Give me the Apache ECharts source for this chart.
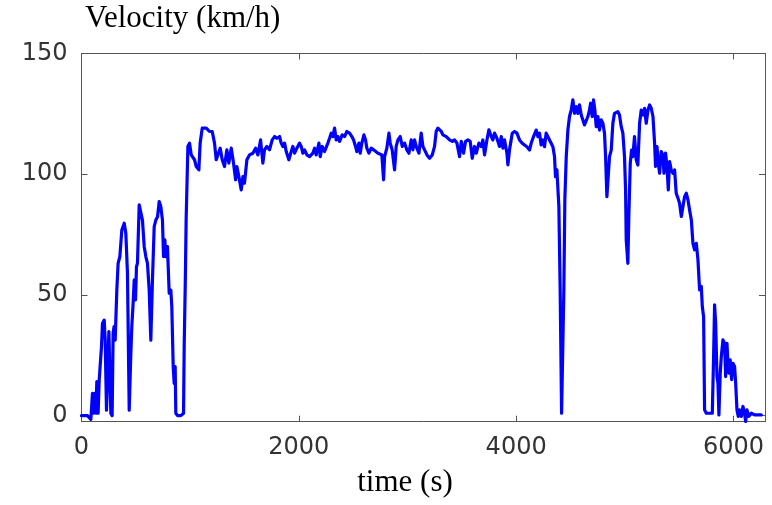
<!DOCTYPE html>
<html>
<head>
<meta charset="utf-8">
<script src="https://cdn.jsdelivr.net/npm/echarts@6/dist/echarts.min.js"></script>
<style>
html,body{margin:0;padding:0;background:#fff;}
#chart{width:772px;height:505px;}
</style>
</head>
<body>
<div id="chart"></div>
<script>
// ---- data: [time (s), velocity (km/h)] ----
var launchPhase = [[0,0],[55,0],[86,-1.5],[101,9.2],[110,1],[123,9.2],[132,1],[141,14.1],[153,1],[163,14.8],[172,14.8],[184,28.6],[193,38.2],[209,39.6],[218,31.3],[230,2.3],[239,2.3],[252,34.8],[264,34.8],[270,1],[282,0],[291,34.1],[300,36.9],[310,31.3],[325,52],[337,63.1],[353,65.9],[371,76.9],[393,79.7],[408,75.5],[423,59],[439,2.3],[454,25.8],[463,36.9],[475,46.5],[485,56.2],[497,47.9],[506,61.7],[515,63.1],[531,87.3],[546,86.6],[561,81],[577,70],[592,65.9],[607,63.1],[623,52],[638,31.3],[653,56.2],[669,78.3],[684,81],[700,82.4],[715,88.7],[730,86.6],[745,81],[755,65.9],[767,72.8],[776,65.9],[791,70],[807,50.7],[822,52],[831,45.2],[844,20.3],[853,13.4],[862,20.3],[868,1],[884,0],[914,0],[939,1],[945,28.6],[955,55]];
var cruisePhase = [[963,81.1],[979,111.5],[994,112.9],[1010,108],[1025,108.7],[1040,106],[1056,103.2],[1080,101.8],[1092,112.9],[1111,119.1],[1148,119.1],[1178,117.7],[1203,117.7],[1224,112.9],[1240,106],[1255,105.3],[1276,110.8],[1295,106],[1316,103.2],[1338,110.1],[1356,104.6],[1378,110.8],[1399,104.6],[1418,97.7],[1430,103.2],[1448,99],[1470,93.5],[1485,99],[1500,96.3],[1522,106],[1546,108],[1577,108.7],[1602,110.8],[1623,108],[1648,114.2],[1669,104.6],[1684,110.1],[1706,111.5],[1730,110.1],[1755,114.2],[1777,115.6],[1798,114.9],[1823,115.6],[1838,112.9],[1853,111.5],[1869,112.9],[1884,109.4],[1908,106],[1930,109.4],[1945,111.5],[1961,108.7],[1982,110.8],[2007,112.9],[2022,111.5],[2037,108.7],[2053,110.1],[2074,108],[2099,107.3],[2129,108.7],[2145,110.8],[2160,108],[2185,112.9],[2197,107.3],[2215,111.5],[2237,109.4],[2252,110.1],[2267,112.9],[2283,114.9],[2298,117],[2313,115.6],[2329,119.1],[2344,114.2],[2359,115.6],[2375,113.6],[2399,116.3],[2421,115.6],[2442,117.7],[2467,117],[2488,115.6],[2504,114.2],[2522,111.5],[2534,109.4],[2553,112.9],[2565,108.7],[2580,112.9],[2599,116.3],[2614,114.2],[2626,110.8],[2645,108.7],[2666,110.8],[2688,110.1],[2706,110.1],[2728,108.7],[2743,109.4],[2764,108],[2780,97.7],[2789,107.3],[2810,110.8],[2829,117],[2841,112.9],[2859,110.1],[2881,101.8],[2896,111.5],[2912,114.2],[2933,115.6],[2952,111.5],[2973,112.9],[2994,110.1],[3013,108.7],[3034,114.2],[3050,110.1],[3065,114.2],[3080,111.5],[3105,108.7],[3126,117],[3142,111.5],[3157,110.1],[3179,108],[3203,106.6],[3228,108],[3249,111.5],[3264,117.7],[3280,119.1],[3295,119.8],[3311,117.7],[3326,116.3],[3357,115.6],[3387,114.2],[3412,113.6],[3433,114.2],[3455,112.9],[3479,107.3],[3495,113.6],[3516,108.7],[3534,113.6],[3556,114.2],[3577,113.6],[3596,106.6],[3617,111.5],[3633,108.7],[3657,112.9],[3679,111.5],[3694,114.2],[3709,108],[3731,114.2],[3749,118.4],[3771,115.6],[3786,114.2],[3801,117],[3823,114.9],[3847,111.5],[3863,115.6],[3878,110.8],[3893,114.2],[3915,108.7],[3924,103.9],[3939,110.1],[3964,117],[3985,117.7],[4007,117]];
var highwayPhase = [[4031,114.2],[4056,112.8],[4077,112.1],[4099,111.4],[4123,110],[4138,112.8],[4160,115.6],[4184,118.3],[4200,115.6],[4215,117],[4230,112.1],[4246,114.2],[4261,111.4],[4276,117],[4292,117.7],[4307,114.2],[4322,114.2],[4338,111.4],[4353,107.3],[4362,99],[4375,101.8],[4393,86.6],[4405,52.1],[4418,1],[4430,1],[4439,52.1],[4448,89.4],[4461,107.3],[4476,118.3],[4491,123.9],[4507,126.6],[4522,130.8],[4537,125.2],[4553,128],[4568,125.2],[4583,128.7],[4599,124.5],[4614,124.5],[4629,120.4],[4645,121.1],[4660,123.9],[4675,126.6],[4685,129.4],[4700,123.9],[4712,130.8],[4724,126.6],[4737,119.7],[4752,123.9],[4767,118.3],[4783,122.5],[4798,121.1],[4813,117],[4823,107.3],[4835,90.7],[4847,99],[4859,107.3],[4875,110],[4890,121.1],[4905,125.2],[4936,125.9],[4951,124.5],[4967,119.7],[4982,117],[4997,107.3],[5007,93.5],[5013,72.8],[5028,63.1],[5037,82.5],[5050,104.5],[5062,110],[5074,107.3],[5089,115.6],[5105,105.9],[5120,103.8]];
var finalPhase = [[5136,121.1],[5151,126.6],[5167,124.5],[5182,127.3],[5197,121.1],[5213,126.6],[5228,128.7],[5243,127.3],[5259,123.9],[5274,112.8],[5283,103.2],[5296,111.4],[5305,105.9],[5320,100.4],[5335,109.4],[5351,108],[5360,100.4],[5375,108.7],[5388,103.2],[5400,93.5],[5412,105.2],[5427,101.8],[5443,100.4],[5458,101.8],[5473,92.1],[5489,90.1],[5504,88],[5520,82.5],[5535,86.6],[5550,90.7],[5566,92.1],[5581,89.4],[5596,85.2],[5612,81.1],[5627,71.4],[5642,68.7],[5658,71.4],[5673,64.5],[5688,52.1],[5704,53.5],[5713,45.2],[5725,41],[5734,2.4],[5750,1],[5805,1],[5817,24.5],[5826,45.9],[5836,38.3],[5848,16.2],[5857,13.5],[5866,0.3],[5878,17.6],[5888,24.5],[5903,31.4],[5918,30],[5928,16.2],[5940,30],[5949,21.7],[5958,17.6],[5970,23.1],[5983,14.9],[5995,21.7],[6010,20.4],[6020,13.5],[6032,2.4],[6044,-0.3],[6056,2.4],[6072,-0.3],[6087,3.8],[6102,1],[6112,-2.4],[6124,2.4],[6142,-0.3],[6164,1],[6194,0.3],[6225,0.3],[6256,0.3]];

var xTicks = [0, 2000, 4000, 6000];
var yTicks = [0, 50, 100, 150];
var xRange = [0, 6290];
var yRange = [-2.5, 150];
var yTitle = 'Velocity (km/h)';
var xTitle = 'time (s)';

var series = launchPhase.concat(cruisePhase, highwayPhase, finalPhase);

var axisColor = '#555555';
var labelStyle = { color: '#333333', fontFamily: 'DejaVu Sans', fontSize: 24 };
function plain(v) { return String(v); }

function makeX(pos, showLabel) {
  return {
    type: 'value', position: pos, min: xRange[0], max: xRange[1],
    axisLine: { show: true, onZero: false, lineStyle: { color: axisColor, width: 1 } },
    axisTick: { show: true, inside: true, length: 6, customValues: xTicks, lineStyle: { color: axisColor } },
    axisLabel: Object.assign({ show: showLabel, customValues: xTicks, margin: 26, verticalAlign: 'middle', formatter: plain }, labelStyle),
    splitLine: { show: false }
  };
}
function makeY(pos, showLabel) {
  return {
    type: 'value', position: pos, min: yRange[0], max: yRange[1],
    axisLine: { show: true, onZero: false, lineStyle: { color: axisColor, width: 1 } },
    axisTick: { show: true, inside: true, length: 6, customValues: yTicks, lineStyle: { color: axisColor } },
    axisLabel: Object.assign({ show: showLabel, customValues: yTicks, margin: 14, formatter: plain }, labelStyle),
    splitLine: { show: false }
  };
}

var chart = echarts.init(document.getElementById('chart'), null, { renderer: 'canvas' });
chart.setOption({
  animation: false,
  backgroundColor: '#ffffff',
  grid: { left: 81.5, right: 7, top: 53.5, bottom: 83.3, containLabel: false },
  xAxis: [makeX('bottom', true), makeX('top', false)],
  yAxis: [makeY('left', true), makeY('right', false)],
  graphic: [
    { type: 'text', left: 85, top: 3, style: { text: yTitle, fill: '#000', font: '31px "Liberation Serif"' } },
    { type: 'text', x: 405, y: 483, style: { text: xTitle, fill: '#000', font: '31px "Liberation Serif"', textAlign: 'center', textVerticalAlign: 'middle' } }
  ],
  series: [{
    type: 'line',
    data: series,
    xAxisIndex: 0, yAxisIndex: 0,
    showSymbol: false, symbol: 'none',
    smooth: false,
    lineStyle: { color: '#0000ff', width: 3.2, join: 'round', cap: 'round' }
  }]
});
</script>
</body>
</html>
